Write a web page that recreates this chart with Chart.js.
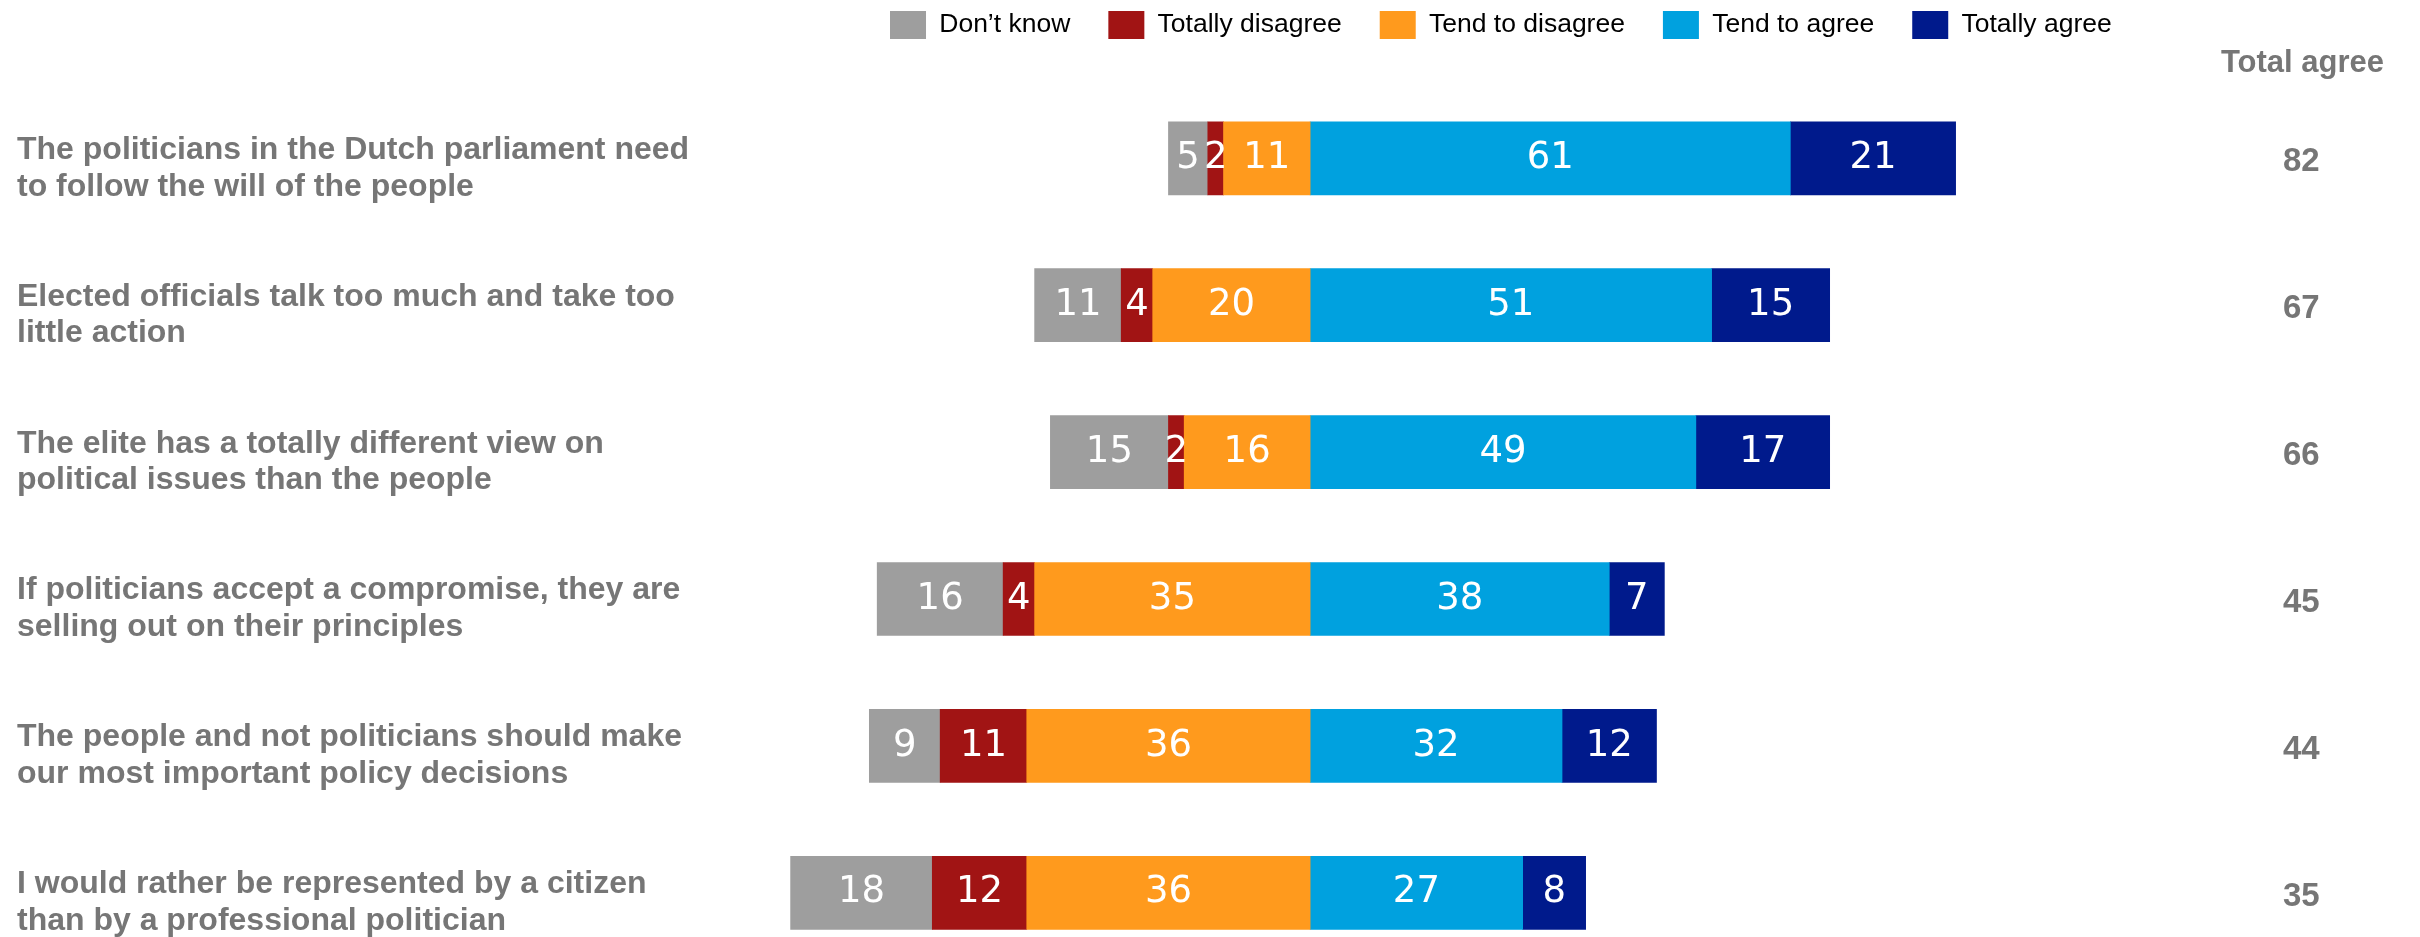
<!DOCTYPE html>
<html>
<head>
<meta charset="utf-8">
<title>Populist attitudes</title>
<script src="https://cdn.jsdelivr.net/npm/chart.js@4.4.1/dist/chart.umd.min.js"></script>
<style>
  html, body { margin: 0; padding: 0; background: #fff; overflow: hidden; }
  /* shifted up so the legend sits near the top edge like the original slide */
  #chart { position: absolute; left: 0; top: -27px; width: 2420px; height: 1038px; }
</style>
</head>
<body>
<canvas id="chart" width="2420" height="1038"></canvas>
<script>
const statements = [
  ['The politicians in the Dutch parliament need', 'to follow the will of the people'],
  ['Elected officials talk too much and take too', 'little action'],
  ['The elite has a totally different view on', 'political issues than the people'],
  ['If politicians accept a compromise, they are', 'selling out on their principles'],
  ['The people and not politicians should make', 'our most important policy decisions'],
  ['I would rather be represented by a citizen', 'than by a professional politician'],
];
const dontKnow        = [5, 11, 15, 16, 9, 18];
const totallyDisagree = [2, 4, 2, 4, 11, 12];
const tendToDisagree  = [11, 20, 16, 35, 36, 36];
const tendToAgree     = [61, 51, 49, 38, 32, 27];
const totallyAgree    = [21, 15, 17, 7, 12, 8];
const totalAgree      = ['82', '67', '66', '45', '44', '35'];
const legendOrder = ['Don\u2019t know', 'Totally disagree', 'Tend to disagree', 'Tend to agree', 'Totally agree'];

const FONT = '"Liberation Sans", Arial, sans-serif';
const GREY_TEXT = '#767676';

// white numbers in the middle of each segment
const barValues = {
  id: 'barValues',
  afterDatasetsDraw(chart) {
    const { ctx } = chart;
    ctx.save();
    ctx.font = '37px "DejaVu Sans", Verdana, sans-serif';
    ctx.fillStyle = '#fff';
    ctx.textAlign = 'center';
    ctx.textBaseline = 'middle';
    chart.data.datasets.forEach((ds, i) => {
      chart.getDatasetMeta(i).data.forEach((bar, j) => {
        const { x, y } = bar.getCenterPoint();
        ctx.fillText(Math.abs(ds.data[j]), x, y);
      });
    });
    ctx.restore();
  }
};

const neg = arr => arr.map(v => -v);

new Chart(document.getElementById('chart'), {
  type: 'bar',
  data: {
    labels: statements,
    datasets: [
      // negatives stack outward from zero in this order
      { label: 'Tend to disagree', data: neg(tendToDisagree), backgroundColor: '#FF9A1D' },
      { label: 'Totally disagree', data: neg(totallyDisagree), backgroundColor: '#A11414' },
      { label: 'Don\u2019t know', data: neg(dontKnow), backgroundColor: '#9E9E9E' },
      { label: 'Tend to agree', data: tendToAgree, backgroundColor: '#00A1DF' },
      { label: 'Totally agree', data: totallyAgree, backgroundColor: '#001A8C' },
    ]
  },
  options: {
    indexAxis: 'y',
    responsive: false,
    animation: false,
    // bottom padding larger than the half-height of the last two-line tick label
    layout: { padding: { top: 0, left: 17, right: 36, bottom: 44.75 } },
    datasets: { bar: { barThickness: 73, borderWidth: 0 } },
    plugins: {
      tooltip: { enabled: false },
      legend: {
        position: 'top',
        align: 'center',
        fullSize: false,
        weight: 1000,
        labels: {
          boxWidth: 36,
          boxHeight: 28,
          padding: 38,
          color: '#000',
          font: { family: FONT, size: 26.5 },
          sort: (a, b) => legendOrder.indexOf(a.text) - legendOrder.indexOf(b.text)
        }
      },
      title: {
        display: true,
        text: 'Total agree',
        position: 'top',
        align: 'end',
        fullSize: true,
        weight: 500,
        color: GREY_TEXT,
        font: { family: FONT, size: 31, weight: 'bold', lineHeight: 0.8 },
        padding: { top: 1.6, bottom: 9.45 }
      }
    },
    scales: {
      x: {
        stacked: true,
        display: false,
        min: -75,
        max: 123.46
      },
      y: {
        stacked: true,
        position: 'left',
        grid: { display: false },
        border: { display: false },
        ticks: {
          crossAlign: 'far',
          labelOffset: 10,
          color: GREY_TEXT,
          font: { family: FONT, size: 32, weight: 'bold', lineHeight: 1.15 }
        },
        afterFit(scale) { scale.width = 702.75; }
      },
      y2: {
        type: 'category',
        labels: totalAgree,
        position: 'right',
        offset: true,
        grid: { display: false, drawTicks: false },
        border: { display: false },
        ticks: {
          crossAlign: 'near',
          padding: 1,
          labelOffset: 4,
          color: GREY_TEXT,
          font: { family: FONT, size: 33, weight: 'bold' }
        },
        afterFit(scale) { scale.width = 102; }
      }
    }
  },
  plugins: [barValues]
});
</script>
</body>
</html>
